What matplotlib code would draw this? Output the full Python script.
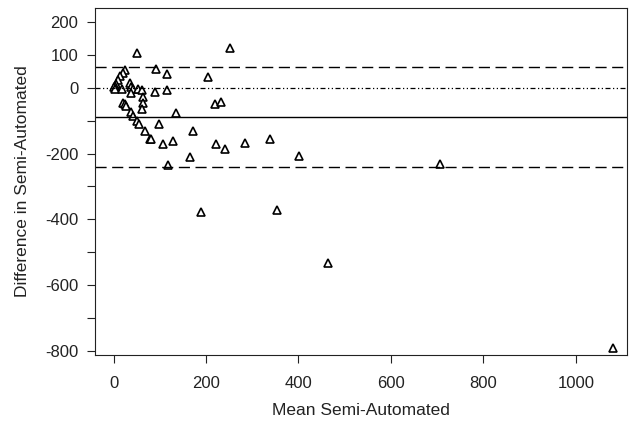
import matplotlib
matplotlib.use("Agg")
import matplotlib.pyplot as plt

plt.rcParams['font.family'] = ['Liberation Sans', 'DejaVu Sans']

# Bland-Altman style data: mean (x) and difference (y)
mean_vals = [51, 253,
             25, 20, 14, 9, 6, 3,
             92, 116, 204,
             0, 4, 19, 36, 37, 43, 53, 61, 89, 115,
             37, 64, 64, 61, 21, 25, 28, 38, 43, 135, 219, 233,
             50, 55, 68, 98, 79, 81, 107, 129,
             172, 222, 242, 285, 339, 166, 402, 118, 707,
             190, 354, 464, 1081]
diff_vals = [106, 120,
             55, 45, 35, 22, 12, 5,
             56, 41, 33,
             2, -3, -5, 14, 3, -4, -3, -7, -14, -7,
             -17, -29, -45, -66, -45, -50, -55, -75, -86, -76, -50, -43,
             -100, -110, -133, -111, -157, -155, -170, -162,
             -133, -172, -186, -169, -157, -211, -208, -235, -232,
             -377, -372, -534, -792]

bias = -89
upper_loa = 63
lower_loa = -241

xticks = [0, 200, 400, 600, 800, 1000]
yticks = [-800, -700, -600, -500, -400, -300, -200, -100, 0, 100, 200]
ytick_labels = ['-800', '', '-600', '', '-400', '', '-200', '', '0', '100', '200']

fig = plt.figure(figsize=(6.36, 4.25), dpi=100)
ax = fig.add_axes([0.1494, 0.165, 0.836, 0.816])

ax.plot(mean_vals, diff_vals, linestyle='none', marker='^', markersize=5.2,
        markerfacecolor='white', markeredgecolor='black', markeredgewidth=1.2)

ax.axhline(0, color='black', linewidth=0.9, dashes=(4, 2, 1, 2, 1, 2))
ax.axhline(bias, color='black', linewidth=1.0)
ax.axhline(upper_loa, color='black', linewidth=1.0, dashes=(8, 4))
ax.axhline(lower_loa, color='black', linewidth=1.0, dashes=(8, 4))

ax.set_xlim(-40, 1110)
ax.set_ylim(-812, 242)

ax.set_xticks(xticks)
ax.set_yticks(yticks)
ax.set_yticklabels(ytick_labels)
ax.tick_params(direction='out', length=6, width=0.8, labelsize=12,
               colors='#222222')
ax.tick_params(axis='x', pad=9)
ax.tick_params(axis='y', pad=6)
for s in ax.spines.values():
    s.set_linewidth(0.8)
    s.set_color('#222222')

ax.set_xlabel('Mean Semi-Automated', fontsize=12.5, color='#222222', labelpad=9)
ax.set_ylabel('Difference in Semi-Automated', fontsize=12.5, color='#222222', labelpad=11)

fig.savefig('out.png', dpi=100)
